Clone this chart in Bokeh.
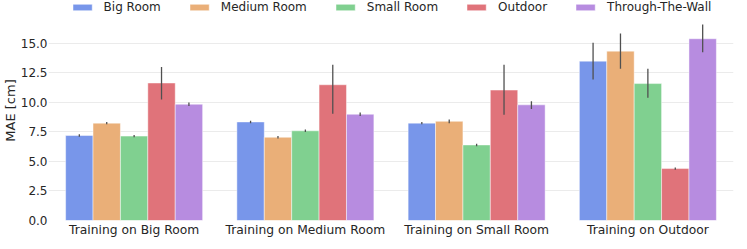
from bokeh.plotting import figure
from bokeh.models import (ColumnDataSource, FactorRange, Range1d, FixedTicker,
                          NumeralTickFormatter, Legend, LegendItem, Title)
from bokeh.transform import dodge
from bokeh.embed import file_html
from bokeh.resources import INLINE

groups = ["Training on Big Room", "Training on Medium Room",
          "Training on Small Room", "Training on Outdoor"]
series = ["Big Room", "Medium Room", "Small Room", "Outdoor", "Through-The-Wall"]

big_room = [7.2, 8.35, 8.25, 13.5]
medium_room = [8.25, 7.05, 8.4, 14.35]
small_room = [7.15, 7.6, 6.4, 11.6]
outdoor = [11.65, 11.5, 11.05, 4.4]
through_wall = [9.85, 9.0, 9.8, 15.4]

big_room_lo = [7.1, 8.25, 8.15, 11.95]
big_room_hi = [7.3, 8.45, 8.35, 15.05]
medium_room_lo = [8.15, 6.95, 8.25, 12.85]
medium_room_hi = [8.35, 7.15, 8.55, 15.85]
small_room_lo = [7.05, 7.5, 6.3, 10.4]
small_room_hi = [7.25, 7.7, 6.5, 12.85]
outdoor_lo = [10.25, 9.05, 8.95, 4.3]
outdoor_hi = [13.0, 13.2, 13.2, 4.5]
through_wall_lo = [9.7, 8.85, 9.45, 14.25]
through_wall_hi = [10.0, 9.15, 10.1, 16.6]

y_ticks = [0, 2.5, 5.0, 7.5, 10.0, 12.5, 15.0]

colors = ["#7896EA", "#EAAF78", "#80D090", "#E0737A", "#B78CE0"]

values = [big_room, medium_room, small_room, outdoor, through_wall]
lows = [big_room_lo, medium_room_lo, small_room_lo, outdoor_lo, through_wall_lo]
highs = [big_room_hi, medium_room_hi, small_room_hi, outdoor_hi, through_wall_hi]

FONT = "DejaVu Sans"
TXT = "#262626"

p = figure(x_range=FactorRange(*groups, range_padding=0), y_range=Range1d(0, 18.64),
           width=739, height=241, output_backend="svg", toolbar_location=None,
           min_border_left=45, min_border_right=6, min_border_top=0, min_border_bottom=21)
p.outline_line_color = None
p.xgrid.grid_line_color = None
p.ygrid.grid_line_color = "#EBEBEB"
p.ygrid.grid_line_width = 1

bar_w = 0.16
offsets = [-0.32, -0.16, 0.0, 0.16, 0.32]
items = []
for name, vals, lo, hi, col, off in zip(series, values, lows, highs, colors, offsets):
    src = ColumnDataSource(dict(g=groups, v=vals, lo=lo, hi=hi))
    r = p.vbar(x=dodge("g", off, range=p.x_range), top="v", width=bar_w, source=src,
               fill_color=col, line_color="white", line_alpha=0.45, line_width=1)
    p.segment(x0=dodge("g", off, range=p.x_range), y0="lo",
              x1=dodge("g", off, range=p.x_range), y1="hi", source=src,
              line_color="#505050", line_width=1.3)
    items.append(LegendItem(label=name, renderers=[r]))

legend = Legend(items=items, orientation="horizontal", location="top_center",
                glyph_width=24, glyph_height=8, label_standoff=10, spacing=26,
                padding=0, margin=0, border_line_alpha=0, background_fill_alpha=0,
                label_text_font=FONT, label_text_font_size="12px",
                label_text_color=TXT, label_height=12)
p.add_layout(legend, "center")

ylabel = Title(text="MAE [cm]", align="center", standoff=0,
               text_font=FONT, text_font_size="13px", text_font_style="normal",
               text_color=TXT)
p.add_layout(ylabel, "left")

p.yaxis.ticker = FixedTicker(ticks=y_ticks)
p.yaxis.formatter = NumeralTickFormatter(format="0.0")
for ax in (p.xaxis, p.yaxis):
    ax.axis_line_color = None
    ax.major_tick_line_color = None
    ax.minor_tick_line_color = None
    ax.major_tick_out = 0
    ax.major_tick_in = 0
    ax.minor_tick_out = 0
    ax.minor_tick_in = 0
    ax.major_label_text_font = FONT
    ax.major_label_text_font_size = "12px"
    ax.major_label_text_color = TXT
p.xaxis.major_label_text_font_size = "12.3px"
p.yaxis.major_label_standoff = 1
p.xaxis.major_label_standoff = 2

open("out.html", "w").write(file_html(p, INLINE))
